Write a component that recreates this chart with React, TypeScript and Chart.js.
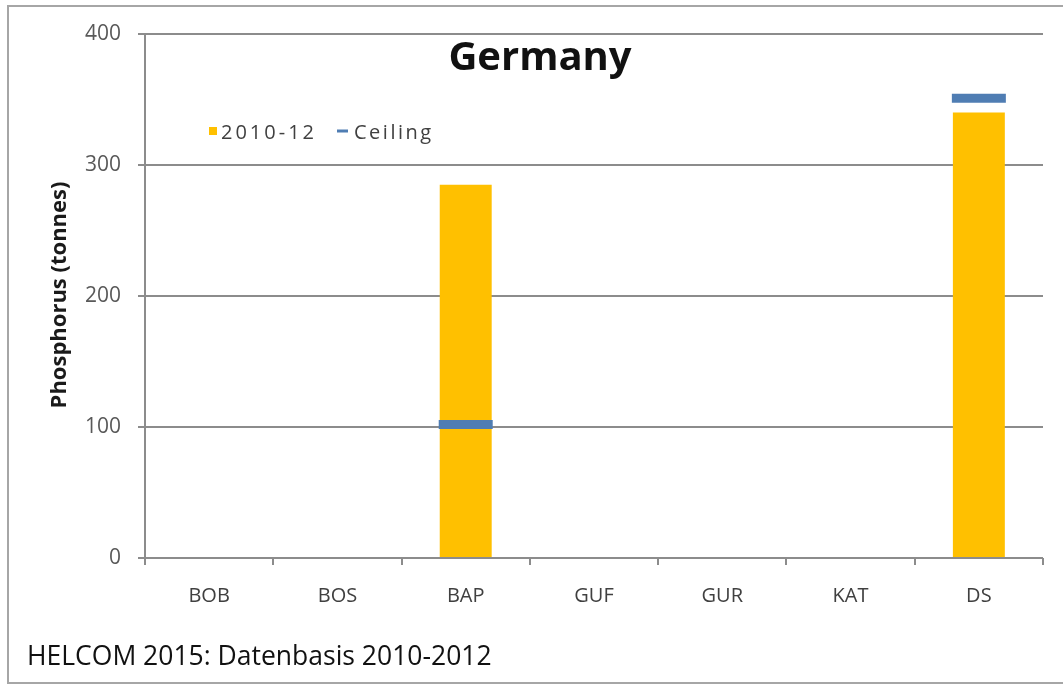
import React, { useEffect, useRef } from 'react';
import { Chart, registerables } from 'chart.js';

Chart.register(...registerables);

const categories = ['BOB', 'BOS', 'BAP', 'GUF', 'GUR', 'KAT', 'DS'];
const values2010_12 = [null, null, 285, null, null, null, 340];
const ceilingValues = [null, null, 102, null, null, null, 351];
const seriesLabels = ['2010-12', 'Ceiling'];
const yMin = 0;
const yMax = 400;
const yStep = 100;
const chartTitle = 'Germany';
const yAxisTitle = 'Phosphorus (tonnes)';
const footerText = 'HELCOM 2015: Datenbasis 2010-2012';

const BAR_COLOR = '#FFC000';
const CEIL_COLOR = '#4F7DB3';
const GRID_COLOR = '#8c8c8c';

const decorPlugin = {
  id: 'decor',
  beforeDraw(chart: any) {
    const ctx = chart.ctx;
    ctx.save();
    ctx.fillStyle = '#ffffff';
    ctx.fillRect(0, 0, chart.width, chart.height);
    ctx.strokeStyle = '#a6a6a6';
    ctx.lineWidth = 2;
    ctx.strokeRect(8, 6, chart.width + 10, chart.height - 8);
    ctx.restore();
  },
  afterDraw(chart: any) {
    const ctx = chart.ctx;
    ctx.save();
    // Title
    ctx.fillStyle = '#111111';
    ctx.font = 'bold 40px "Open Sans"';
    ctx.textAlign = 'center';
    ctx.textBaseline = 'middle';
    ctx.fillText(chartTitle, 540, 59);

    // Y axis title
    ctx.save();
    ctx.translate(60, 295);
    ctx.rotate(-Math.PI / 2);
    ctx.font = 'bold 22px "Open Sans"';
    ctx.fillStyle = '#1a1a1a';
    ctx.fillText(yAxisTitle, 0, 0);
    ctx.restore();

    // Legend
    const ds = chart.data.datasets;
    ctx.textAlign = 'left';
    ctx.textBaseline = 'middle';
    ctx.font = '20px "Open Sans"';
    ctx.fillStyle = ds[0].backgroundColor;
    ctx.fillRect(209, 127, 8, 8);
    ctx.fillStyle = '#404040';
    (ctx as any).letterSpacing = '3px';
    ctx.fillText(ds[0].label, 221, 133);
    ctx.strokeStyle = ds[1].borderColor;
    ctx.lineWidth = 3;
    ctx.beginPath();
    ctx.moveTo(337, 131);
    ctx.lineTo(348, 131);
    ctx.stroke();
    ctx.fillStyle = '#404040';
    (ctx as any).letterSpacing = '2.5px';
    ctx.fillText(ds[1].label, 354, 133);
    (ctx as any).letterSpacing = '0px';

    // Footer
    ctx.font = '26.5px "Open Sans"';
    ctx.fillStyle = '#111111';
    ctx.textBaseline = 'middle';
    ctx.fillText(footerText, 27, 657);
    ctx.restore();
  },
};

export default function App() {
  const ref = useRef<HTMLCanvasElement | null>(null);
  useEffect(() => {
    if (!ref.current) return;
    const chart = new Chart(ref.current, {
      type: 'bar',
      data: {
        labels: categories,
        datasets: [
          {
            type: 'bar',
            label: seriesLabels[0],
            data: values2010_12,
            backgroundColor: BAR_COLOR,
            borderWidth: 0,
            barPercentage: 0.405,
            categoryPercentage: 1,
            order: 1,
          } as any,
          {
            type: 'line',
            label: seriesLabels[1],
            data: ceilingValues,
            showLine: false,
            pointStyle: 'line',
            pointRadius: 27,
            pointHoverRadius: 27,
            borderColor: CEIL_COLOR,
            backgroundColor: CEIL_COLOR,
            borderWidth: 9,
            pointBorderWidth: 9,
            clip: false,
            order: 0,
          } as any,
        ],
      },
      options: {
        animation: false,
        responsive: false,
        maintainAspectRatio: false,
        layout: { autoPadding: false, padding: { left: 8, right: 20, top: 34, bottom: 0 } },
        plugins: {
          legend: { display: false },
          title: { display: false },
          tooltip: { enabled: false },
        },
        scales: {
          x: {
            afterFit: (s: any) => { s.height = 127; },
            grid: {
              display: true,
              drawOnChartArea: false,
              drawTicks: true,
              tickLength: 7,
              color: GRID_COLOR,
              lineWidth: 2,
              offset: true,
            },
            border: { display: false },
            ticks: {
              color: '#404040',
              font: { family: '"Open Sans"', size: 20 },
              padding: 19,
              maxRotation: 0,
            },
          },
          y: {
            min: yMin,
            max: yMax,
            afterFit: (s: any) => { s.width = 137; },
            grid: {
              color: GRID_COLOR,
              lineWidth: 2,
              tickLength: 7,
              drawTicks: true,
            },
            border: { display: true, color: GRID_COLOR, width: 2 },
            ticks: {
              stepSize: yStep,
              color: '#595959',
              font: { family: '"Open Sans"', size: 21 },
              padding: 17,
            },
          },
        },
      },
      plugins: [decorPlugin],
    });
    return () => chart.destroy();
  }, []);
  return (
    <div style={{ position: 'fixed', left: 0, top: 0, width: 1063, height: 685, background: '#fff' }}>
      <canvas ref={ref} width={1063} height={685} style={{ width: 1063, height: 685, display: 'block' }} />
    </div>
  );
}
